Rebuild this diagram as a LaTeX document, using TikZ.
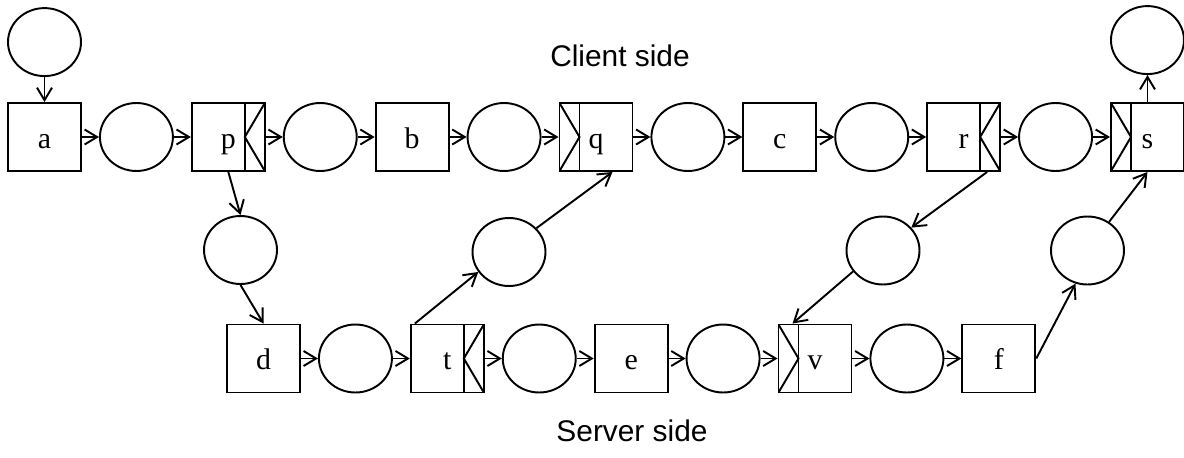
\documentclass[tikz,border=0pt]{standalone}
\usepackage{fontspec}
\setmainfont{Liberation Serif}
\newfontfamily\sidefont{Liberation Sans}
\usetikzlibrary{positioning,arrows.meta,shapes.geometric}
\tikzset{
  act/.style={draw, minimum width=1.46cm, minimum height=1.36cm, inner sep=0pt, text height=0.44cm, text depth=0cm, font=\fontsize{17}{20}\selectfont},
  buf/.style={draw, ellipse, minimum width=1.46cm, minimum height=1.36cm, inner sep=0pt},
  splitr/.style={act, path picture={
    \draw[line width=1.1pt] ([xshift=-4mm]path picture bounding box.north east) -- ([xshift=-4mm]path picture bounding box.south east);
    \draw[line width=1.1pt] (path picture bounding box.north east) -- ([xshift=-4mm]path picture bounding box.east) -- (path picture bounding box.south east);}},
  splitl/.style={act, path picture={
    \draw[line width=1.1pt] ([xshift=4mm]path picture bounding box.north west) -- ([xshift=4mm]path picture bounding box.south west);
    \draw[line width=1.1pt] (path picture bounding box.north west) -- ([xshift=4mm]path picture bounding box.west) -- (path picture bounding box.south west);}},
  sidelbl/.style={font=\sidefont\fontsize{17}{20}\selectfont},
  flow/.style={-{Straight Barb[length=2.5mm,width=3mm]}},
}
\begin{document}
\begin{tikzpicture}[x=0.02cm, y=-0.02cm, line width=1.1pt, node distance=0.34cm]
\useasboundingbox (0,0) rectangle (1184,457);
% client side
\node[act] (a) at (44.5,137) {a};
\node[buf, right=of a] (ca1) {};
\node[splitr, right=of ca1] (p) {p};
\node[buf, right=of p] (ca2) {};
\node[act, right=of ca2] (b) {b};
\node[buf, right=of b] (ca3) {};
\node[splitl, right=of ca3] (q) {q};
\node[buf, right=of q] (ca4) {};
\node[act, right=of ca4] (c) {c};
\node[buf, right=of c] (ca5) {};
\node[splitr, right=of ca5] (r) {r};
\node[buf, right=of r] (ca6) {};
\node[splitl, right=of ca6] (s) {s};
\node[buf, above=0.5cm of a] (cin) {};
\node[buf, above=0.54cm of s] (cout) {};
% server side
\node[act] (d) at (263.5,358.5) {d};
\node[buf, right=of d] (sa1) {};
\node[splitr, right=of sa1] (t) {t};
\node[buf, right=of t] (sa2) {};
\node[act, right=of sa2] (e) {e};
\node[buf, right=of e] (sa3) {};
\node[splitl, right=of sa3] (v) {v};
\node[buf, right=of v] (sa4) {};
\node[act, right=of sa4] (f) {f};
% crossing places
\node[buf] (m1) at (240.5,250) {};
\node[buf] (m2) at (509,252) {};
\node[buf] (m3) at (883,250.5) {};
\node[buf] (m4) at (1087.5,250.5) {};
\node[sidelbl] (cl) at (620,56) {Client side};
\node[sidelbl] (sl) at (632,431) {Server side};
% client flow
\draw[flow] (cin) -- (a);
\draw[flow] (a) -- (ca1);
\draw[flow] (ca1) -- (p);
\draw[flow] (p) -- (ca2);
\draw[flow] (ca2) -- (b);
\draw[flow] (b) -- (ca3);
\draw[flow] (ca3) -- (q);
\draw[flow] (q) -- (ca4);
\draw[flow] (ca4) -- (c);
\draw[flow] (c) -- (ca5);
\draw[flow] (ca5) -- (r);
\draw[flow] (r) -- (ca6);
\draw[flow] (ca6) -- (s);
\draw[flow] (s) -- (cout);
% server flow
\draw[flow] (d) -- (sa1);
\draw[flow] (sa1) -- (t);
\draw[flow] (t) -- (sa2);
\draw[flow] (sa2) -- (e);
\draw[flow] (e) -- (sa3);
\draw[flow] (sa3) -- (v);
\draw[flow] (v) -- (sa4);
\draw[flow] (sa4) -- (f);
% between the sides
\draw[flow] (p.south) -- (m1.north);
\draw[flow] (m1.south) -- (d.north);
\draw[flow] ([xshift=1mm]t.north west) -- (m2.213);
\draw[flow] (m2.41) -- ([xshift=3.3mm]q.south);
\draw[flow] ([xshift=4.7mm]r.south) -- (m3.39);
\draw[flow] (m3.215) -- ([xshift=-4.5mm]v.north);
\draw[flow] (f.east) -- (m4.250);
\draw[flow] (m4.53) -- (s.south);
\end{tikzpicture}
\end{document}
